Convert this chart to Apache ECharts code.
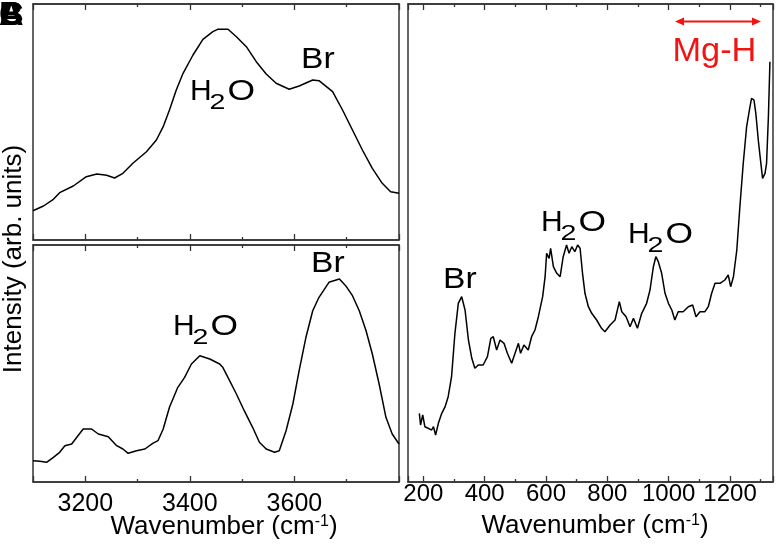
<!DOCTYPE html>
<html>
<head>
<meta charset="utf-8">
<script src="https://cdn.jsdelivr.net/npm/echarts@6/dist/echarts.min.js"></script>
<style>
html,body{margin:0;padding:0;background:#fff;}
#chart{width:780px;height:548px;}
</style>
</head>
<body>
<div id="chart"></div>
<script>
// ---- Data ----
// Panel A (top-left): IR spectrum, high wavenumber region
var topLeftWn = [3100,3120,3139,3151,3177,3202,3222,3241,3256,3272,3291,3317,3336,3349,3361,3374,3387,3406,3425,3444,3453,3473,3489,3508,3527,3546,3565,3590,3609,3635,3647,3673,3692,3711,3730,3749,3768,3784,3800];
var topLeftI  = [29.3,34,40.7,47.3,54,63.3,66,64.7,62,66.7,76.7,88.3,100,113.3,130,150,166.7,185,200.7,208.3,210.7,210.7,203.3,193.3,178.3,166,156.7,150.7,154,160,159.3,148.3,130,110,90,71.7,56.7,48.3,46.7];

// Panel B (bottom-left)
var bottomLeftWn = [3100,3113,3126,3139,3151,3161,3174,3186,3196,3212,3225,3244,3260,3272,3282,3298,3314,3329,3339,3349,3361,3377,3390,3403,3419,3438,3457,3463,3476,3489,3504,3520,3533,3546,3562,3571,3584,3597,3609,3622,3635,3647,3666,3686,3698,3711,3724,3737,3749,3762,3775,3787,3800];
var bottomLeftI  = [21.3,20.7,19.7,24.7,29.7,36.3,38,46.3,53,53,48,45.3,36.3,33,28.7,31.3,33,38.7,41.3,53,74.7,94.7,104.7,118,126.3,123,118,114.7,101.3,88,71.3,54.7,39.7,33,29.7,31.3,51.3,78,111.3,144.7,171.3,184.7,199.7,203,196.3,186.3,171.3,151.3,128,98,64.7,48,38];

// Panel C (right): low wavenumber region
var rightWn = [187,191,198,205,216,227,233,240,249,260,271,281,292,303,314,325,336,347,358,368,379,395,409,420,428,439,450,463,474,488,499,510,517,528,542,553,564,575,589,597,602,610,615,624,635,646,656,667,675,684,694,703,711,719,727,738,749,765,781,792,809,825,839,847,861,874,885,898,912,928,939,950,958,966,977,988,999,1010,1020,1031,1047,1064,1078,1089,1102,1118,1129,1140,1151,1167,1183,1194,1202,1211,1222,1232,1243,1254,1265,1270,1278,1284,1292,1298,1306,1314,1319,1325,1330];
var rightI  = [68.7,57,67,55.3,53.7,52,55.3,47,58.7,68.7,75.3,85.3,105.3,148.7,178.7,185.3,172,142,123.7,113.7,117,117,125.3,143.7,145.3,132,142,138.7,128.7,118.7,128.7,138.7,128.7,137,132,145.3,152,165.3,185.3,205.3,228.7,223.7,233.7,215.3,208.7,205.3,225.3,237,228.7,235.3,230.3,237,233.7,208.7,188.7,175.3,168.7,162,153.7,150.3,157,162,180.3,170.3,165.3,155.3,163.7,153.7,168.7,178.7,192,215.3,225.3,220.3,208.7,188.7,178.7,172,162,170.3,170.3,175.3,177,165.3,170.3,170.3,175.3,188.7,198.7,198.7,202,207,195.3,205.3,232,275.3,318.7,355.3,375.3,383.7,382,368.7,342,325.3,303.7,308.7,318.7,365.3,420.3];

// Axis ranges and titles
var leftXRange = [3100, 3800];
var rightXRange = [150, 1340];
var xTitle = 'Wavenumber (cm{sup|-1})';
var yTitle = 'Intensity (arb. units)';
var panelLetters = ['B', 'C', 'A'];

// ---- Chart ----
var FONT = '"Liberation Sans", Arial, Helvetica, sans-serif';
var FRAME = '#333';
function zip(a, b) { return a.map(function (v, i) { return [v, b[i]]; }); }

function xa(grid, pos, range, showLabel, fontSize, margin) {
  var min = range[0], max = range[1];
  return {
    type: 'value', gridIndex: grid, position: pos, min: min, max: max,
    splitNumber: 5, minInterval: 200, maxInterval: 200,
    axisLine: { show: true, onZero: false, lineStyle: { color: FRAME, width: 1.5 } },
    splitLine: { show: false },
    axisTick: { show: true, inside: true, length: 6, lineStyle: { color: FRAME, width: 1.3 } },
    minorTick: { show: true, splitNumber: 2, length: 3, lineStyle: { color: FRAME, width: 1.3 } },
    axisLabel: {
      show: showLabel, fontSize: fontSize, color: '#000', fontFamily: FONT, margin: margin,
      formatter: function (v) { return (v % 200 === 0 && v > min && v < max) ? String(v) : ''; }
    }
  };
}
function ya(grid, max) {
  return { type: 'value', gridIndex: grid, min: 0, max: max, show: false };
}
function gridBox(left, top, width, height) {
  return { left: left, top: top, width: width, height: height, show: true,
           borderColor: FRAME, borderWidth: 1.5, backgroundColor: 'transparent', containLabel: false };
}
function line(idx, data) {
  return { type: 'line', xAxisIndex: idx, yAxisIndex: idx, data: data, showSymbol: false,
           symbol: 'none', lineStyle: { color: '#000', width: 1.5 }, silent: true };
}
function txt(x, y, s, size, extra, sx) {
  var st = { text: s, fontSize: size, fontFamily: FONT, fill: '#000', align: 'left', verticalAlign: 'middle' };
  if (extra) for (var k in extra) st[k] = extra[k];
  return { type: 'text', x: x, y: y, scaleX: sx || 1, style: st, z: 100 };
}
function br(x0, b) { return [txt(x0 - 2, b - 10.7, 'Br', 30, null, 1.12)]; }
function h2o(x0, b) {
  return [txt(x0 - 2, b - 10.7, 'H', 30, null, 1.0),
          txt(x0 + 17.5, b + 1, '2', 22, null, 1.3),
          txt(x0 + 35.5, b - 10.7, 'O', 30, null, 1.18)];
}

var graphics = [];
panelLetters.forEach(function (L) {
  graphics.push(txt(-1, 16, L, 34, { fontWeight: 'bold' }));
});
graphics = graphics.concat(h2o(192, 102), br(303, 70));
graphics = graphics.concat(h2o(175, 337), br(313, 274));
graphics = graphics.concat(br(445, 290), h2o(543, 233), h2o(630, 245));
graphics.push(txt(672.5, 52, 'Mg-H', 33, { fill: '#f01414' }, 1.04));
// double-headed arrow
graphics.push({ type: 'line', shape: { x1: 682, y1: 21.5, x2: 753, y2: 21.5 }, style: { stroke: '#f01414', lineWidth: 2 }, z: 100 });
graphics.push({ type: 'polygon', shape: { points: [[675, 21.5], [684, 17.5], [684, 25.5]] }, style: { fill: '#f01414' }, z: 100 });
graphics.push({ type: 'polygon', shape: { points: [[761, 21.5], [752, 17.5], [752, 25.5]] }, style: { fill: '#f01414' }, z: 100 });
// axis titles
var rich = { sup: { fontSize: 16, fontFamily: FONT, fill: '#000', verticalAlign: 'top' } };
graphics.push(txt(224, 527, xTitle, 26, { align: 'center', rich: rich }));
graphics.push(txt(595, 526, xTitle, 26, { align: 'center', rich: rich }));
graphics.push({ type: 'text', x: 14, y: 259, rotation: Math.PI / 2,
  style: { text: yTitle, fontSize: 26, fontFamily: FONT, fill: '#000', align: 'center', verticalAlign: 'middle' }, z: 100 });

var option = {
  animation: false,
  backgroundColor: '#fff',
  grid: [gridBox(33, 4, 366, 236), gridBox(33, 245, 366, 237), gridBox(408, 4, 365, 478)],
  xAxis: [
    xa(0, 'bottom', leftXRange, false, 25, 9), xa(0, 'top', leftXRange, false, 25, 9),
    xa(1, 'bottom', leftXRange, true, 25, 10), xa(1, 'top', leftXRange, false, 25, 9),
    xa(2, 'bottom', rightXRange, true, 24, 0), xa(2, 'top', rightXRange, false, 24, 0)
  ],
  yAxis: [ya(0, 236), ya(0, 236), ya(1, 237), ya(1, 237), ya(2, 478), ya(2, 478)],
  series: [
    line(0, zip(topLeftWn, topLeftI)),
    line(2, zip(bottomLeftWn, bottomLeftI)),
    line(4, zip(rightWn, rightI))
  ],
  graphic: graphics
};
var chart = echarts.init(document.getElementById('chart'), null, { renderer: 'canvas' });
chart.setOption(option);
</script>
</body>
</html>
